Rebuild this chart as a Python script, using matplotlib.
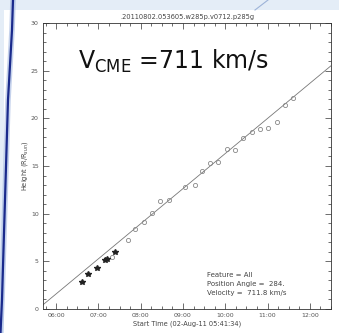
import matplotlib.pyplot as plt
import numpy as np
from matplotlib.lines import Line2D
from matplotlib.patches import Rectangle
from matplotlib.ticker import FuncFormatter, MultipleLocator

# height-time measurements (hours of day, R/Rsun)
t_filled = [6.61, 6.75, 6.97, 7.16, 7.20, 7.39]
h_filled = [2.8, 3.7, 4.3, 5.1, 5.2, 6.0]
t_open = [7.32, 7.70, 7.86, 8.08, 8.27, 8.46, 8.67, 9.05, 9.28, 9.45, 9.64,
          9.83, 10.04, 10.23, 10.42, 10.63, 10.82, 11.01, 11.22, 11.41, 11.60]
h_open = [5.5, 7.2, 8.4, 9.1, 10.1, 11.3, 11.4, 12.8, 13.0, 14.5, 15.3,
          15.4, 16.8, 16.7, 17.9, 18.6, 18.9, 19.0, 19.6, 21.4, 22.1]

velocity = 711.8          # km/s
t_zero = 5.57             # fit line crosses zero height
rsun_km = 696000.0
slope = velocity * 3600 / rsun_km   # R/Rsun per hour

fig = plt.figure(figsize=(3.39, 3.33), dpi=100, facecolor='#e4edf7')

# slide panel + decorative strokes
fig.patches.append(Rectangle((4 / 339, 0), 1, 323 / 333, transform=fig.transFigure,
                             facecolor='white', edgecolor='none', zorder=-3))
stroke_x = [13 / 339, 12 / 339, 8 / 339, 5 / 339, 2 / 339, 0.5 / 339]
stroke_y = [1, 0.91, 0.70, 0.40, 0.10, 0.0]
fig.lines.append(Line2D(stroke_x, stroke_y, transform=fig.transFigure,
                        color='#9fb4e0', lw=4, alpha=0.6, zorder=-2))
fig.lines.append(Line2D(stroke_x, stroke_y, transform=fig.transFigure,
                        color='#1a2a8c', lw=1.6, zorder=-1))
fig.lines.append(Line2D([255 / 339, 268 / 339], [323 / 333, 1], transform=fig.transFigure,
                        color='#9db3d8', lw=0.8, zorder=-2))

ax = fig.add_axes([43 / 339, 24 / 333, 288 / 339, 286 / 333])
ax.set_facecolor('white')

tx = np.array([5.69, 12.5])
ax.plot(tx, slope * (tx - t_zero), color='#777777', lw=0.6)
ax.plot(t_open, h_open, 'o', ms=3, mfc='none', mec='#888888', mew=0.6)
ax.plot(t_filled, h_filled, '*', ms=4, color='#222222')

ax.set_xlim(5.69, 12.5)
ax.set_ylim(0, 30)
ax.xaxis.set_major_locator(MultipleLocator(1))
ax.xaxis.set_minor_locator(MultipleLocator(0.25))
ax.yaxis.set_major_locator(MultipleLocator(5))
ax.yaxis.set_minor_locator(MultipleLocator(1))
ax.xaxis.set_major_formatter(FuncFormatter(lambda v, p: '%02d:00' % round(v)))
ax.tick_params(which='both', direction='in', top=True, right=True,
               labelsize=4.5, labelcolor='#555555', color='#333333', width=0.5, pad=3)
ax.tick_params(which='major', length=4)
ax.tick_params(which='minor', length=2)
for s in ax.spines.values():
    s.set_linewidth(0.6)
    s.set_color('#333333')

ax.set_title('.20110802.053605.w285p.v0712.p285g', fontsize=4.8, color='#444444', pad=3)
ax.set_xlabel('Start Time (02-Aug-11 05:41:34)', fontsize=4.8, color='#444444', labelpad=2)
ax.set_ylabel('Height (R/R$_{sun}$)', fontsize=4.8, color='#444444', labelpad=1)

ax.text(0.12, 0.84, r'V$_{\rm CME}$ =711 km/s', transform=ax.transAxes,
        fontsize=17, color='#111111', family='DejaVu Sans')
ax.text(0.57, 0.045, 'Feature = All\nPosition Angle =  284.\nVelocity =  711.8 km/s',
        transform=ax.transAxes, fontsize=5, color='#444444', linespacing=1.6, va='bottom')

fig.savefig('out.png', dpi=100, facecolor=fig.get_facecolor())
